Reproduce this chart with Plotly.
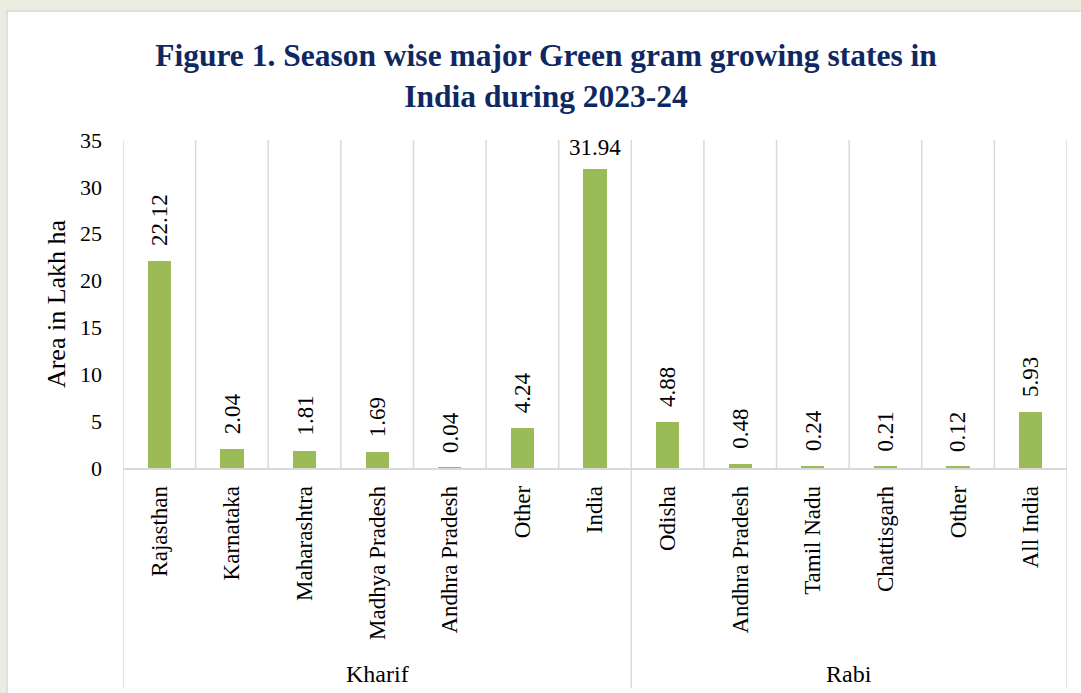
import plotly.graph_objects as go

seasons = ["Kharif"] * 7 + ["Rabi"] * 6
states = ["Rajasthan", "Karnataka", "Maharashtra", "Madhya Pradesh", "Andhra Pradesh",
          "Other", "India", "Odisha", "Andhra Pradesh", "Tamil Nadu", "Chattisgarh",
          "Other", "All India"]
area = [22.12, 2.04, 1.81, 1.69, 0.04, 4.24, 31.94, 4.88, 0.48, 0.24, 0.21, 0.12, 5.93]
y_ticks = [0, 5, 10, 15, 20, 25, 30, 35]

W, H = 1081, 693
L, R, T, B = 123, 1067, 140, 468  # plot area in px
def py(p):  # pixel y -> paper y
    return (B - p) / (B - T)
def px(p):
    return (p - L) / (R - L)

SERIF = "Liberation Serif, Times New Roman, serif"
GRID = "#d9d9d9"
BAR = "#9bbb59"
BG = "#eaeddf"

xs = list(range(len(states)))

fig = go.Figure()
fig.add_trace(go.Bar(x=xs, y=area, width=0.32, marker=dict(color=BAR, line=dict(width=0)),
                     hoverinfo="y"))

shapes = []
# white panel
shapes.append(dict(type="rect", xref="paper", yref="paper", x0=px(7), x1=px(1090),
                   y0=py(705), y1=py(11), fillcolor="white",
                   line=dict(color=GRID, width=1.5), layer="below"))

# group boundaries
n = len(states)
bounds = [0]
for i in range(1, n):
    if seasons[i] != seasons[i - 1]:
        bounds.append(i)
bounds.append(n)

for i in range(n + 1):
    if i in bounds:
        shapes.append(dict(type="line", xref="x", yref="paper", x0=i - 0.5, x1=i - 0.5,
                           y0=py(688), y1=1, line=dict(color=GRID, width=1.5), layer="below"))
    else:
        shapes.append(dict(type="line", xref="x", yref="y", x0=i - 0.5, x1=i - 0.5,
                           y0=0, y1=35, line=dict(color=GRID, width=1.5), layer="below"))

annotations = []
for i, v in enumerate(area):
    if states[i] == "India":
        annotations.append(dict(x=i, y=v, xref="x", yref="y", text=f"{v:.2f}",
                                showarrow=False, yanchor="bottom", yshift=7,
                                font=dict(family=SERIF, size=23, color="black")))
    else:
        annotations.append(dict(x=i, y=v, xref="x", yref="y", text=f"{v:.2f}",
                                showarrow=False, yanchor="bottom", textangle=-90, yshift=13,
                                font=dict(family=SERIF, size=23, color="black")))

for gi in range(len(bounds) - 1):
    a, b = bounds[gi], bounds[gi + 1]
    annotations.append(dict(x=(a + b - 1) / 2, y=py(674), xref="x", yref="paper",
                            text=seasons[a], showarrow=False, yanchor="middle",
                            font=dict(family=SERIF, size=24, color="black")))

fig.update_layout(
    width=W, height=H,
    margin=dict(l=L, r=W - R, t=T, b=H - B, autoexpand=False),
    paper_bgcolor=BG,
    plot_bgcolor="white",
    showlegend=False,
    bargap=0,
    title=dict(text="Figure 1. Season wise major Green gram growing states in<br>India during 2023-24",
               x=546 / W, xanchor="center", xref="container",
               y=1 - 66 / H, yanchor="middle", yref="container",
               font=dict(family=SERIF, size=31.5, color="#0f2862", weight="bold")),
    shapes=shapes,
    annotations=annotations,
    xaxis=dict(range=[-0.5, n - 0.5], tickmode="array", tickvals=xs, ticktext=states,
               tickangle=-90, showgrid=False, zeroline=False, showline=True,
               linecolor=GRID, linewidth=1.5, ticks="", ticklabelstandoff=7,
               tickfont=dict(family=SERIF, size=23, color="black"), fixedrange=True),
    yaxis=dict(range=[0, 35], tickmode="array", tickvals=y_ticks, showgrid=False,
               zeroline=False, showline=False, ticks="", ticklabelstandoff=20,
               tickfont=dict(family=SERIF, size=22, color="black"),
               title=dict(text="Area in Lakh ha", standoff=6,
                          font=dict(family=SERIF, size=26, color="black")),
               fixedrange=True),
)

fig.write_html("out.html", config={"displayModeBar": False},
               post_script="document.body.style.margin='0';document.body.style.background='%s';" % BG)
